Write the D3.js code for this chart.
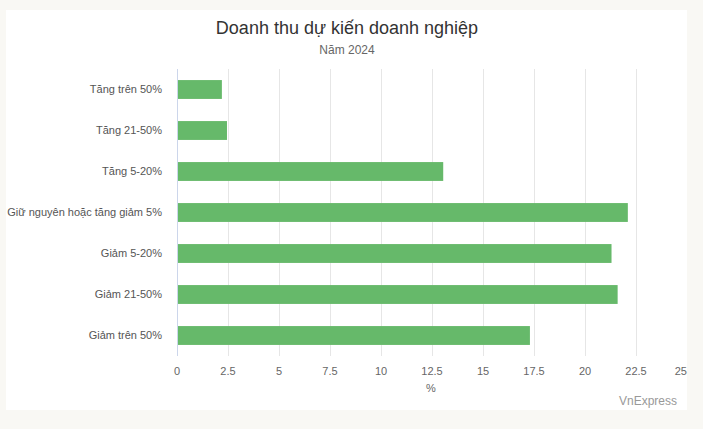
<!DOCTYPE html>
<html><head><meta charset="utf-8">
<script src="https://cdn.jsdelivr.net/npm/d3@7"></script>
<style>
html,body{margin:0;padding:0;background:#f9f8f4;}
svg{display:block;font-family:"Liberation Sans",Arial,sans-serif;}
</style></head>
<body>
<svg id="chart" width="703" height="429"></svg>
<script>
const categories = ["Tăng trên 50%","Tăng 21-50%","Tăng 5-20%","Giữ nguyên hoặc tăng giảm 5%","Giảm 5-20%","Giảm 21-50%","Giảm trên 50%"];
const values = [2.2, 2.45, 13.05, 22.1, 21.3, 21.6, 17.3];
const xTicks = [0, 2.5, 5, 7.5, 10, 12.5, 15, 17.5, 20, 22.5, 25];
const xTickLabels = ["0","2.5","5","7.5","10","12.5","15","17.5","20","22.5","25"];
const title = "Doanh thu dự kiến doanh nghiệp";
const subtitle = "Năm 2024";
const xTitle = "%";
const credit = "VnExpress";

const svg = d3.select("#chart");
svg.append("rect").attr("x",6).attr("y",10).attr("width",681).attr("height",400).attr("fill","#ffffff");

const pLeft = 177, pRight = 687, pTop = 69, pBottom = 356;
const x = d3.scaleLinear().domain([0,25]).range([pLeft,pRight]);
const y = d3.scaleBand().domain(categories).range([pTop,pBottom]).paddingInner(0.54).paddingOuter(0.27);

// gridlines
svg.append("g").selectAll("line").data(xTicks.filter(t=>t>0 && t<25)).join("line")
  .attr("x1",d=>Math.round(x(d))+0.5).attr("x2",d=>Math.round(x(d))+0.5)
  .attr("y1",pTop).attr("y2",pBottom).attr("stroke","#e6e6e6").attr("stroke-width",1);

// bars
svg.append("g").selectAll("rect").data(values).join("rect")
  .attr("x",x(0)).attr("y",(d,i)=>y(categories[i]))
  .attr("width",d=>x(d)-x(0)).attr("height",y.bandwidth())
  .attr("fill","#66b96a");

// category axis line
svg.append("line").attr("x1",Math.round(x(0))+0.5).attr("x2",Math.round(x(0))+0.5)
  .attr("y1",pTop).attr("y2",pBottom).attr("stroke","#ccd6eb");

// category labels
svg.append("g").selectAll("text").data(categories).join("text")
  .attr("x",162).attr("y",d=>y(d)+y.bandwidth()/2).attr("dy","0.35em")
  .attr("text-anchor","end").attr("font-size",11).attr("fill","#555").text(d=>d);

// x tick labels
svg.append("g").selectAll("text").data(xTicks).join("text")
  .attr("x",(d,i)=> i===xTicks.length-1 ? 687 : x(d))
  .attr("y",375)
  .attr("text-anchor",(d,i)=> i===xTicks.length-1 ? "end" : "middle")
  .attr("font-size",11).attr("fill","#666").text((d,i)=>xTickLabels[i]);

svg.append("text").attr("x",x(12.5)-1).attr("y",392).attr("text-anchor","middle")
  .attr("font-size",11).attr("fill","#666").text(xTitle);

svg.append("text").attr("x",347).attr("y",34).attr("text-anchor","middle")
  .attr("font-size",18).attr("fill","#333").text(title);
svg.append("text").attr("x",347).attr("y",54).attr("text-anchor","middle")
  .attr("font-size",12).attr("fill","#666").text(subtitle);

svg.append("text").attr("x",677).attr("y",405).attr("text-anchor","end")
  .attr("font-size",12).attr("fill","#999").text(credit);
</script>
</body></html>
